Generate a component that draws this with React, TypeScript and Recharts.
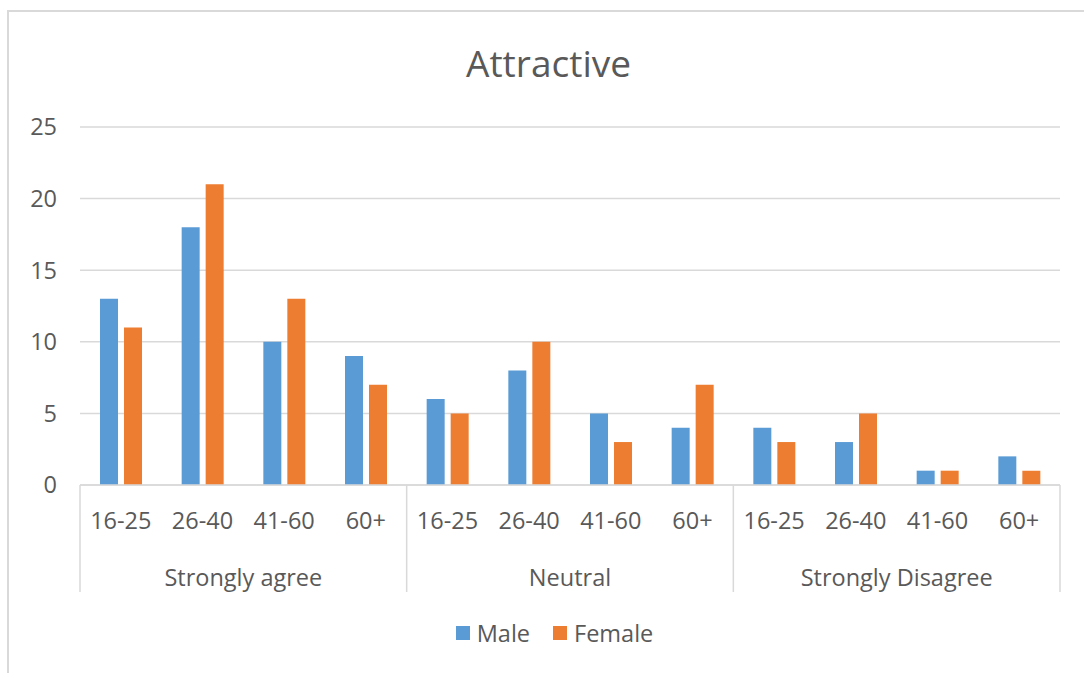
import React from 'react';
import { BarChart, Bar, XAxis, YAxis, CartesianGrid } from 'recharts';

// survey answers by response, age band and gender
const groups = ['Strongly agree', 'Neutral', 'Strongly Disagree'];
const ageBands = ['16-25', '26-40', '41-60', '60+'];
const maleCounts = [13, 18, 10, 9, 6, 8, 5, 4, 4, 3, 1, 2];
const femaleCounts = [11, 21, 13, 7, 5, 10, 3, 7, 3, 5, 1, 1];
const yTicks = [0, 5, 10, 15, 20, 25];

const data = maleCounts.map((m, i) => ({
  key: `${groups[Math.floor(i / ageBands.length)]}|${ageBands[i % ageBands.length]}`,
  age: ageBands[i % ageBands.length],
  group: groups[Math.floor(i / ageBands.length)],
  male: m,
  female: femaleCounts[i],
}));

const W = 1084;
const H = 673;
const MARGIN = { top: 127, right: 24, left: 0, bottom: 81 };
const Y_AXIS_W = 80;
const X_AXIS_H = 107;
const AXIS_Y = H - MARGIN.bottom - X_AXIS_H;
const BAND = (W - MARGIN.left - MARGIN.right - Y_AXIS_W) / data.length;

const FONT = '"Open Sans", sans-serif';
const FS = 23.5;
const TEXT = '#595959';
const LINE = '#d9d9d9';
const BLUE = '#5b9bd5';
const ORANGE = '#ed7d31';

// age label under each pair, response label under every block of four,
// plus the vertical separators between blocks
function TwoLevelTick(props: any) {
  const { x, payload } = props;
  const i = payload.index;
  const per = ageBands.length;
  const row = data[i];
  return (
    <g>
      <text x={x} y={AXIS_Y + 35} textAnchor="middle" dominantBaseline="central"
        fill={TEXT} fontSize={FS} fontFamily={FONT}>
        {row.age}
      </text>
      {i % per === 0 && (
        <line x1={x - BAND / 2} x2={x - BAND / 2} y1={AXIS_Y} y2={AXIS_Y + X_AXIS_H}
          stroke={LINE} strokeWidth={1.5} />
      )}
      {i === data.length - 1 && (
        <line x1={x + BAND / 2} x2={x + BAND / 2} y1={AXIS_Y} y2={AXIS_Y + X_AXIS_H}
          stroke={LINE} strokeWidth={1.5} />
      )}
      {i % per === 1 && (
        <text x={x + BAND / 2} y={AXIS_Y + 92} textAnchor="middle" dominantBaseline="central"
          fill={TEXT} fontSize={FS} fontFamily={FONT}>
          {row.group}
        </text>
      )}
    </g>
  );
}

export default function App() {
  return (
    <div style={{ position: 'absolute', left: 0, top: 0, width: W, height: H, background: '#fff', overflow: 'hidden' }}>
      {/* chart frame: only the top and left edges fall inside the view */}
      <div style={{
        position: 'absolute', left: 7, top: 10, width: W, height: H,
        borderTop: `2px solid ${LINE}`, borderLeft: `2px solid ${LINE}`,
      }} />

      <div style={{
        position: 'absolute', left: 0, top: 38, width: 1097, textAlign: 'center',
        fontFamily: FONT, fontSize: 37, color: TEXT, lineHeight: '50px',
      }}>
        Attractive
      </div>

      <div style={{ position: 'absolute', left: 0, top: 0 }}>
        <BarChart width={W} height={H} data={data} margin={MARGIN} barSize={18} barGap={6}>
          <CartesianGrid vertical={false} stroke={LINE} strokeWidth={1.5} />
          <XAxis
            dataKey="key"
            interval={0}
            height={X_AXIS_H}
            tickLine={false}
            axisLine={{ stroke: LINE, strokeWidth: 1.5 }}
            tick={<TwoLevelTick />}
          />
          <YAxis
            width={Y_AXIS_W}
            domain={[0, 25]}
            ticks={yTicks}
            axisLine={false}
            tickLine={false}
            tickMargin={17}
            tick={{ fill: TEXT, fontSize: FS, fontFamily: FONT }}
          />
          <Bar dataKey="male" name="Male" fill={BLUE} isAnimationActive={false} />
          <Bar dataKey="female" name="Female" fill={ORANGE} isAnimationActive={false} />
        </BarChart>
      </div>

      <div style={{
        position: 'absolute', left: 0, top: 618, width: 1109, display: 'flex', justifyContent: 'center',
        alignItems: 'center', fontFamily: FONT, fontSize: FS, color: TEXT, lineHeight: '30px',
      }}>
        {[{ name: 'Male', color: BLUE }, { name: 'Female', color: ORANGE }].map((s, k) => (
          <span key={s.name} style={{ display: 'flex', alignItems: 'center', marginLeft: k ? 23 : 0 }}>
            <span style={{ width: 14, height: 14, background: s.color, marginRight: 7, display: 'inline-block' }} />
            {s.name}
          </span>
        ))}
      </div>
    </div>
  );
}
